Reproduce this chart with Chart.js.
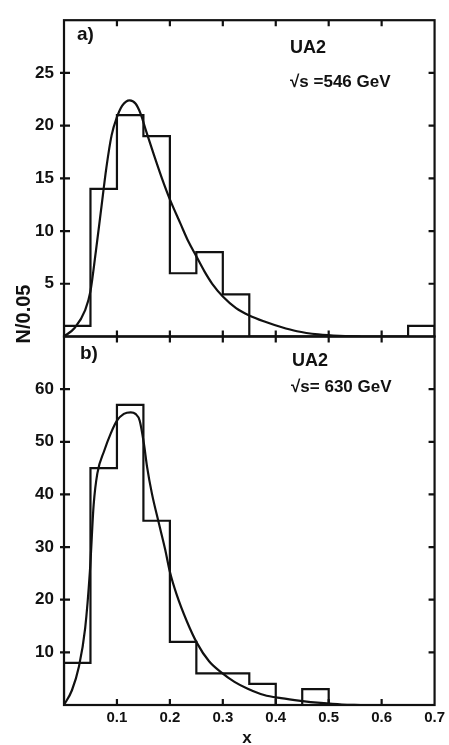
<!DOCTYPE html>
<html>
<head>
<meta charset="utf-8">
<script src="https://cdn.jsdelivr.net/npm/chart.js@4/dist/chart.umd.min.js"></script>
<style>
  html, body { margin: 0; padding: 0; background: #fff; }
  #plot { display: block; }
</style>
</head>
<body>
<canvas id="plot" width="449" height="745"></canvas>
<script>
// bin edges in x (width 0.05)
const binEdges = [0, 0.05, 0.1, 0.15, 0.2, 0.25, 0.3, 0.35, 0.4, 0.45, 0.5, 0.55, 0.6, 0.65, 0.7];

// a) sqrt(s) = 546 GeV
const countsA = [1, 14, 21, 19, 6, 8, 4, 0, 0, 0, 0, 0, 0, 1];
const fitAx = [0, 0.02, 0.04, 0.05, 0.06, 0.07, 0.08, 0.09, 0.1, 0.11, 0.124, 0.135, 0.145, 0.155, 0.17, 0.185, 0.2, 0.22, 0.235, 0.25, 0.265, 0.28, 0.3, 0.325, 0.35, 0.38, 0.41, 0.44, 0.48, 0.52, 0.56];
const fitAy = [0, 0.8, 2.5, 4.3, 8.0, 12.0, 16.0, 19.1, 20.8, 21.9, 22.4, 22.1, 21.1, 19.5, 17.2, 15.0, 13.0, 10.7, 9.0, 7.6, 6.2, 5.0, 3.8, 2.7, 2.0, 1.4, 0.9, 0.5, 0.2, 0.05, 0];

// b) sqrt(s) = 630 GeV
const countsB = [8, 45, 57, 35, 12, 6, 6, 4, 0, 3, 0, 0, 0, 0];
const fitBx = [0, 0.015, 0.028, 0.04, 0.049, 0.056, 0.063, 0.076, 0.088, 0.1, 0.113, 0.126, 0.135, 0.143, 0.151, 0.157, 0.166, 0.179, 0.191, 0.2, 0.213, 0.232, 0.251, 0.274, 0.297, 0.322, 0.347, 0.378, 0.41, 0.447, 0.485, 0.525, 0.56];
const fitBy = [0, 2.8, 7.2, 14.6, 25.5, 38, 44, 48.3, 51.5, 54, 55.3, 55.6, 55.3, 54, 49.6, 45.2, 40.2, 34.6, 29.6, 25.3, 20.9, 15.9, 11.8, 8.3, 6.2, 4.4, 3.1, 1.9, 1.3, 0.8, 0.4, 0.1, 0];

const yTicksA = [5, 10, 15, 20, 25];
const yTicksB = [10, 20, 30, 40, 50, 60];
const xTicks = [0.1, 0.2, 0.3, 0.4, 0.5, 0.6, 0.7];

function histPoints(counts) {
  const n = counts.length;
  const pts = [{ x: binEdges[0], y: 0 }];
  counts.forEach((c, i) => pts.push({ x: binEdges[i], y: c }));
  pts.push({ x: binEdges[n], y: counts[n - 1] });
  pts.push({ x: binEdges[n], y: 0 });
  return pts;
}

function curvePoints(xs, ys) {
  return xs.map((x, i) => ({ x: x, y: ys[i] }));
}

const INK = '#111';

const histStyle = {
  type: 'line', stepped: true, borderColor: INK, borderWidth: 2.2,
  pointRadius: 0, fill: false, borderJoinStyle: 'miter'
};
const fitStyle = {
  type: 'line', cubicInterpolationMode: 'monotone', borderColor: INK,
  borderWidth: 2.2, pointRadius: 0, fill: false
};

// frame, inward ticks and panel texts
const framePlugin = {
  id: 'frame',
  afterDatasetsDraw(chart) {
    const ctx = chart.ctx;
    const xs = chart.scales.x;
    const panels = [
      { s: chart.scales.yA, ticks: yTicksA },
      { s: chart.scales.yB, ticks: yTicksB }
    ];
    ctx.save();
    ctx.strokeStyle = INK;
    ctx.lineWidth = 2.2;
    panels.forEach(p => {
      const top = p.s.top, bot = p.s.bottom;
      ctx.strokeRect(xs.left, top, xs.right - xs.left, bot - top);
      ctx.beginPath();
      xTicks.forEach(v => {
        if (v >= 0.7) return;
        const px = xs.getPixelForValue(v);
        ctx.moveTo(px, top); ctx.lineTo(px, top + 6);
        ctx.moveTo(px, bot); ctx.lineTo(px, bot - 6);
      });
      p.ticks.forEach(v => {
        const py = p.s.getPixelForValue(v);
        ctx.moveTo(xs.left - 4, py); ctx.lineTo(xs.left + 6, py);
        ctx.moveTo(xs.right, py); ctx.lineTo(xs.right - 6, py);
      });
      ctx.stroke();
    });

    ctx.fillStyle = INK;
    ctx.textBaseline = 'alphabetic';
    ctx.textAlign = 'left';
    ctx.font = 'bold 19px "Liberation Sans"';
    ctx.fillText('a)', 77, 40);
    ctx.fillText('b)', 80, 359);
    ctx.font = 'bold 18px "Liberation Sans"';
    ctx.fillText('UA2', 290, 53);
    ctx.fillText('UA2', 292, 366);
    ctx.font = 'bold 17px "Liberation Sans"';
    ctx.fillText('\u221As =546 GeV', 290, 87);
    ctx.fillText('\u221As= 630 GeV', 291, 392);

    ctx.font = 'bold 17px "Liberation Sans"';
    ctx.textAlign = 'center';
    ctx.textBaseline = 'middle';
    ctx.fillText('x', 247, 738);

    ctx.translate(24, 314);
    ctx.rotate(-Math.PI / 2);
    ctx.font = 'bold 20px "Liberation Sans"';
    ctx.fillText('N/0.05', 0, 0);
    ctx.restore();
  }
};

const tickFont = { family: 'Liberation Sans', size: 17, weight: 'bold' };

new Chart(document.getElementById('plot'), {
  data: {
    datasets: [
      Object.assign({ data: histPoints(countsA), yAxisID: 'yA' }, histStyle),
      Object.assign({ data: curvePoints(fitAx, fitAy), yAxisID: 'yA' }, fitStyle),
      Object.assign({ data: histPoints(countsB), yAxisID: 'yB' }, histStyle),
      Object.assign({ data: curvePoints(fitBx, fitBy), yAxisID: 'yB' }, fitStyle)
    ]
  },
  options: {
    responsive: false,
    devicePixelRatio: 1,
    animation: false,
    layout: { padding: { top: 10, right: 13, left: 0, bottom: 0 } },
    plugins: { legend: { display: false }, tooltip: { enabled: false } },
    scales: {
      x: {
        type: 'linear', position: 'bottom', min: 0, max: 0.7,
        grid: { display: false, drawTicks: false }, border: { display: false },
        afterFit: s => { s.height = 40; },
        ticks: {
          stepSize: 0.1, autoSkip: false, maxRotation: 0, padding: 4,
          color: INK, font: { family: 'Liberation Sans', size: 15, weight: 'bold' },
          callback: v => (v < 0.05 ? '' : v.toFixed(1))
        }
      },
      yA: {
        type: 'linear', position: 'left', stack: 'panels', stackWeight: 321, weight: 2,
        min: 0, max: 30,
        grid: { display: false, drawTicks: false }, border: { display: false },
        afterFit: s => { s.width = 64; },
        ticks: {
          stepSize: 5, padding: 10, color: INK, font: tickFont,
          callback: v => (yTicksA.includes(v) ? v : '')
        }
      },
      yB: {
        type: 'linear', position: 'left', stack: 'panels', stackWeight: 374, weight: 1,
        min: 0, max: 70,
        grid: { display: false, drawTicks: false }, border: { display: false },
        afterFit: s => { s.width = 64; },
        ticks: {
          stepSize: 10, padding: 10, color: INK, font: tickFont,
          callback: v => (yTicksB.includes(v) ? v : '')
        }
      }
    }
  },
  plugins: [framePlugin]
});
</script>
</body>
</html>
